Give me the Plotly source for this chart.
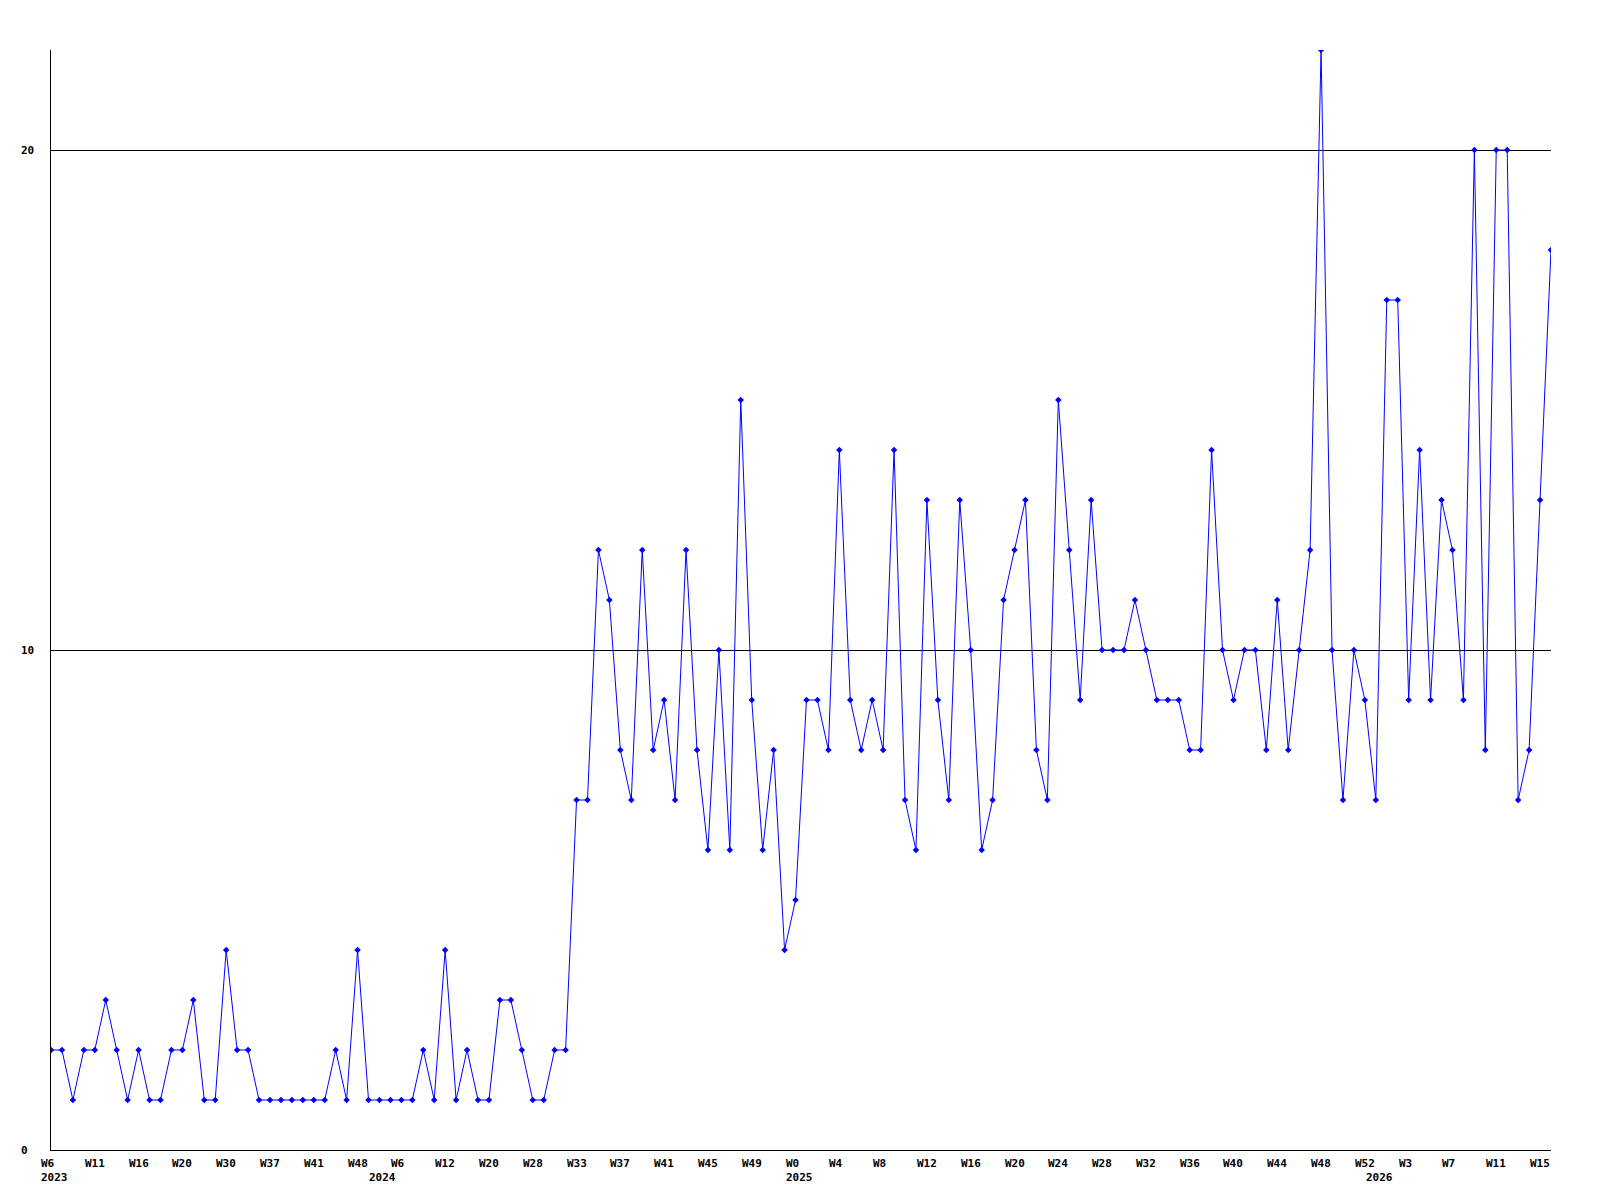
import plotly.graph_objects as go

# Weekly values (one per point, equally spaced)
values = [
    2, 2, 1, 2, 2, 3, 2, 1, 2, 1, 1, 2, 2, 3, 1, 1, 4, 2, 2, 1,
    1, 1, 1, 1, 1, 1, 2, 1, 4, 1, 1, 1, 1, 1, 2, 1, 4, 1, 2, 1,
    1, 3, 3, 2, 1, 1, 2, 2,
    7, 7, 12, 11, 8, 7, 12, 8, 9, 7, 12, 8, 6, 10, 6, 15, 9, 6, 8, 4, 5, 9, 9,
    8, 14,
    9, 8, 9, 8, 14, 7, 6, 13, 9, 7, 13, 10, 6, 7, 11, 12, 13, 8, 7, 15,
    12, 9, 13, 10, 10, 10, 11, 10, 9, 9, 9, 8, 8,
    14, 10, 9, 10, 10, 8, 11, 8, 10, 12, 22, 10, 7, 10, 9, 7, 17, 17, 9, 14,
    9, 13, 12, 9, 20, 8, 20, 20, 7, 8, 13, 18,
]

# Week tick labels, shown on every 4th point
week_labels = [
    "W6", "W11", "W16", "W20", "W30", "W37", "W41", "W48",
    "W6", "W12", "W20", "W28", "W33", "W37", "W41", "W45", "W49",
    "W0", "W4", "W8", "W12", "W16", "W20", "W24", "W28", "W32", "W36",
    "W40", "W44", "W48", "W52", "W3", "W7", "W11", "W15",
]
label_step = 4

# Year labels and the point index where each year starts
years = ["2023", "2024", "2025", "2026"]
year_start_index = [0, 30, 68, 121]

y_ticks = [0, 10, 20]

FONT = "DejaVu Sans Mono"
x_idx = list(range(len(values)))

fig = go.Figure()
fig.add_trace(go.Scatter(
    x=x_idx, y=values, mode="lines+markers",
    line=dict(color="#0000ff", width=1),
    marker=dict(symbol="diamond", size=5, color="#0000ff"),
    hoverinfo="skip",
))

annotations = []
for i, lab in enumerate(week_labels):
    annotations.append(dict(
        x=i * label_step, y=0, xref="x", yref="paper",
        text=f"<b>{lab}</b>", showarrow=False,
        xanchor="left", yanchor="middle", xshift=-11, yshift=-13, borderpad=0,
        font=dict(family=FONT, size=11, color="black"),
    ))
for yr, si in zip(years, year_start_index):
    annotations.append(dict(
        x=si, y=0, xref="x", yref="paper",
        text=f"<b>{yr}</b>", showarrow=False,
        xanchor="left", yanchor="middle", xshift=-11, yshift=-27, borderpad=0,
        font=dict(family=FONT, size=11, color="black"),
    ))
for t in y_ticks:
    annotations.append(dict(
        x=0, y=t, xref="paper", yref="y",
        text=f"<b>{t}</b>", showarrow=False,
        xanchor="left", yanchor="middle", xshift=-31, borderpad=0,
        font=dict(family=FONT, size=11, color="black"),
    ))

# page body has an 8px margin; compensate so the plot area sits at 51..1551 x 50..1150
fig.update_layout(
    width=1592, height=1192,
    margin=dict(l=43, r=49, t=42, b=50),
    paper_bgcolor="white", plot_bgcolor="white",
    showlegend=False,
    annotations=annotations,
    xaxis=dict(
        range=[0, len(values) - 1], showgrid=False, zeroline=False,
        showline=True, linecolor="black", linewidth=1,
        showticklabels=False, ticks="",
    ),
    yaxis=dict(
        range=[0, 22], tickvals=y_ticks, showgrid=True, gridcolor="black",
        gridwidth=1, zeroline=False, showline=True, linecolor="black",
        linewidth=1, showticklabels=False, ticks="",
    ),
)

fig.write_html("out.html")
